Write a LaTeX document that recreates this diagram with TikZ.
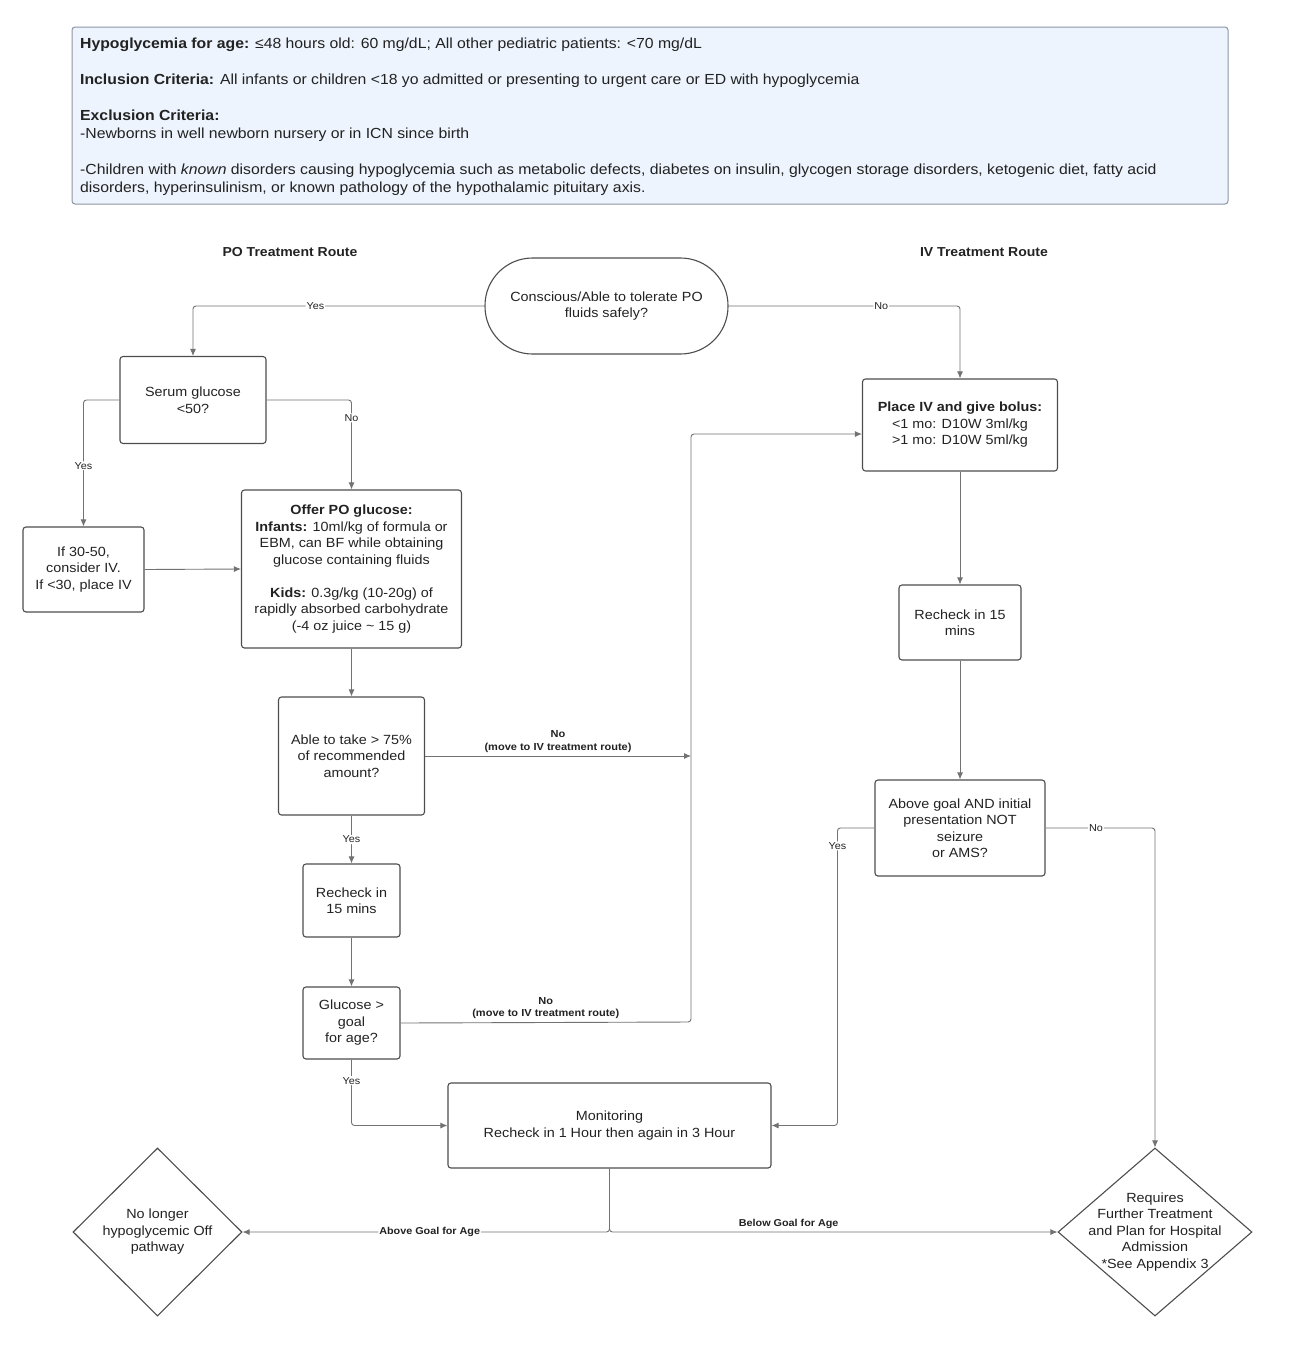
\documentclass[tikz,border=0pt]{standalone}
\usepackage{fontspec}
\setmainfont{Liberation Sans}[FakeStretch=1.08]
\usetikzlibrary{arrows.meta}
\usetikzlibrary{shapes.geometric}

\definecolor{boxgray}{HTML}{4D4D4D}
\definecolor{linegray}{HTML}{727272}
\definecolor{inkgray}{HTML}{222222}
\definecolor{infofill}{HTML}{EDF4FD}
\definecolor{infoline}{HTML}{8C96A3}

\tikzset{
  box/.style={draw=boxgray, line width=1.1pt, rounded corners=3pt, align=center, inner sep=0pt,
    text=inkgray, font=\fontsize{13.3}{16.5}\selectfont},
  decide/.style={draw=boxgray, line width=1.1pt, diamond, inner sep=0pt},
  dtext/.style={align=center, text=inkgray, font=\fontsize{13.3}{16.5}\selectfont},
  line/.style={draw=linegray, line width=0.9pt, rounded corners=3pt},
  arr/.style={line, -{Latex[length=7pt,width=6pt]}},
  lbl/.style={fill=white, inner sep=1pt, text=inkgray, font=\fontsize{10}{12}\selectfont},
  blbl/.style={align=center, inner sep=1pt, text=inkgray, font=\bfseries\fontsize{10.2}{12.5}\selectfont},
  routetitle/.style={text=inkgray, font=\bfseries\fontsize{13}{16}\selectfont}
}

\begin{document}
\begin{tikzpicture}[x=1pt, y=-1pt]
  \useasboundingbox (0,0) rectangle (1300,1358);

  % criteria box on top
  \node[draw=infoline, fill=infofill, line width=1pt, rounded corners=3pt, minimum width=1156, minimum height=177] (info) at (650,115.5) {};
  \node[anchor=north west, align=left, inner sep=0pt, text=inkgray, font=\fontsize{14.6}{18}\selectfont] (criteria) at (80,37.5) {%
    \textbf{Hypoglycemia for age:} ≤48 hours old: 60 mg/dL; All other pediatric patients: <70 mg/dL\\[18pt]
    \textbf{Inclusion Criteria:} All infants or children <18 yo admitted or presenting to urgent care or ED with hypoglycemia\\[18pt]
    \textbf{Exclusion Criteria:}\\
    -Newborns in well newborn nursery or in ICN since birth\\[18pt]
    -Children with \textit{known} disorders causing hypoglycemia such as metabolic defects, diabetes on insulin, glycogen storage disorders, ketogenic diet, fatty acid\\
    disorders, hyperinsulinism, or known pathology of the hypothalamic pituitary axis.};

  \node[routetitle] (potitle) at (290,252) {PO Treatment Route};
  \node[routetitle] (ivtitle) at (984,252) {IV Treatment Route};

  % PO side
  \node[box, rounded corners=47.5pt, minimum width=243, minimum height=96] (start) at (606.5,306) {Conscious/Able to tolerate PO\\ fluids safely?};
  \node[box, minimum width=146, minimum height=87] (serum) at (193,400) {Serum glucose\\ <50?};
  \node[box, minimum width=121, minimum height=85] (consider) at (83.5,569.5) {If 30-50,\\ consider IV.\\ If <30, place IV};
  \node[box, minimum width=220, minimum height=158] (offer) at (351.5,569) {\textbf{Offer PO glucose:}\\ \textbf{Infants:} 10ml/kg of formula or\\ EBM, can BF while obtaining\\ glucose containing fluids\\[16.5pt] \textbf{Kids:} 0.3g/kg (10-20g) of\\ rapidly absorbed carbohydrate\\ (-4 oz juice \textasciitilde{} 15 g)};
  \node[box, minimum width=146, minimum height=118] (able) at (351.5,756) {Able to take > 75\%\\ of recommended\\ amount?};
  \node[box, minimum width=97, minimum height=73] (recheckpo) at (351.5,900.5) {Recheck in\\ 15 mins};
  \node[box, minimum width=97, minimum height=72] (glucose) at (351.5,1023) {Glucose >\\ goal\\ for age?};
  \node[box, minimum width=323, minimum height=85] (monitor) at (609.5,1125.5) {Monitoring\\ Recheck in 1 Hour then again in 3 Hour};
  \node[decide, minimum width=169, minimum height=168, label={[dtext]center:{No longer\\ hypoglycemic Off\\ pathway}}] (nolonger) at (157.5,1232) {};

  % IV side
  \node[box, minimum width=195, minimum height=92] (ivbox) at (960,425) {\textbf{Place IV and give bolus:}\\ <1 mo: D10W 3ml/kg\\ >1 mo: D10W 5ml/kg};
  \node[box, minimum width=122, minimum height=75] (recheckiv) at (960,622.5) {Recheck in 15\\ mins};
  \node[box, minimum width=170, minimum height=96] (abovegoal) at (960,828) {Above goal AND initial\\ presentation NOT\\ seizure\\ or AMS?};
  \node[decide, minimum width=194, minimum height=168, label={[dtext]center:{Requires\\ Further Treatment\\ and Plan for Hospital\\ Admission\\ *See Appendix 3}}] (requires) at (1155,1232) {};

  \coordinate (ivjoin) at (691,756);
  \coordinate (ivbend) at (691,1022);

  % connectors
  \draw[arr] (start.west) -| node[lbl, pos=0.29] {Yes} (serum.north);
  \draw[arr] (start.east) -| node[lbl, pos=0.33] {No} (ivbox.north);
  \draw[arr] (serum.west) -| node[lbl, pos=0.76] {Yes} (consider.north);
  \draw[arr] (serum.east) -| node[lbl, pos=0.6] {No} (offer.north);
  \draw[arr] (consider.east) -- (offer.west);
  \draw[arr] (offer.south) -- (able.north);
  \draw[arr] (able.east) -- node[blbl, above=2pt] {No\\ (move to IV treatment route)} (ivjoin);
  \draw[arr] (able.south) -- node[lbl] {Yes} (recheckpo.north);
  \draw[arr] (recheckpo.south) -- (glucose.north);
  \draw[arr] (glucose.east) -- node[blbl, above=2pt] {No\\ (move to IV treatment route)} (ivbend) |- ([yshift=-9pt]ivbox.west);
  \draw[arr] (glucose.south) |- node[lbl, pos=0.16] {Yes} (monitor.west);
  \draw[arr] (monitor.south) |- node[lbl, font=\bfseries\fontsize{10}{12}\selectfont, pos=0.745] {Above Goal for Age} (nolonger.east);
  \draw[arr] (monitor.south) |- node[blbl, font=\bfseries\fontsize{10}{12}\selectfont, above=2pt, pos=0.70] {Below Goal for Age} (requires.west);

  \draw[arr] (ivbox.south) -- (recheckiv.north);
  \draw[arr] (recheckiv.south) -- (abovegoal.north);
  \draw[arr] (abovegoal.west) -- ++(-37,0) |- node[lbl, pos=0.03] {Yes} (monitor.east);
  \draw[arr] (abovegoal.east) -| node[lbl, pos=0.23] {No} (requires.north);
\end{tikzpicture}
\end{document}
